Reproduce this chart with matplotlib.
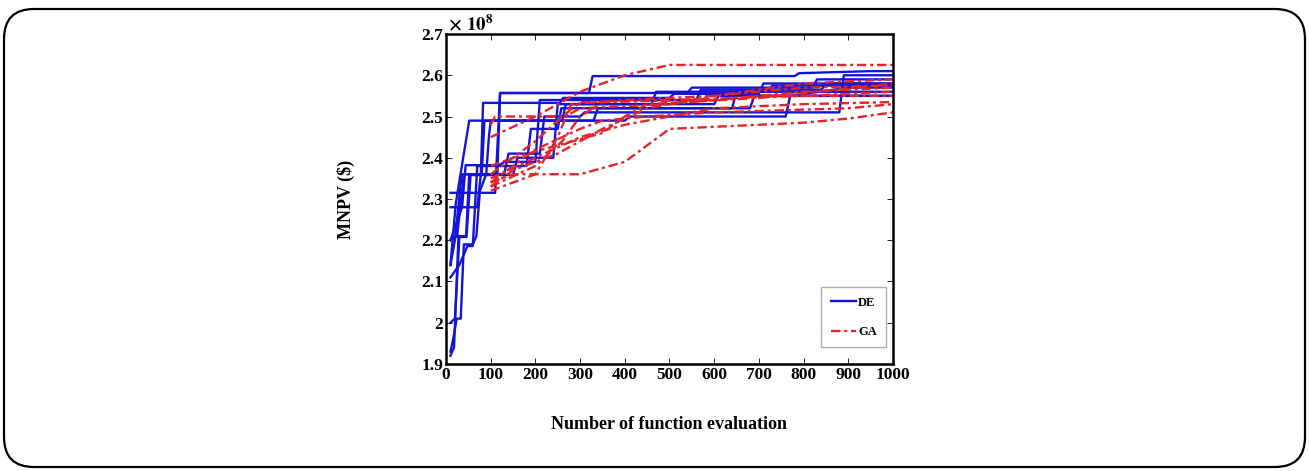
import matplotlib.pyplot as plt
from matplotlib.patches import FancyBboxPatch

# convergence runs, y in units of 1e8 $
de_runs = [
    ([10, 16, 24, 33, 40, 60, 68, 76, 90, 96, 100, 260, 268, 600, 610, 1000],
     [1.93, 1.96, 2.01, 2.01, 2.19, 2.19, 2.21, 2.32, 2.36, 2.45, 2.49, 2.49, 2.53, 2.53, 2.55, 2.55]),
    ([10, 18, 28, 45, 52, 80, 86, 400, 410, 760, 770, 900, 1000],
     [1.92, 1.94, 2.21, 2.21, 2.36, 2.36, 2.49, 2.49, 2.50, 2.50, 2.55, 2.57, 2.57]),
    ([10, 70, 78, 83, 255, 262, 500, 510, 700, 710, 1000],
     [2.28, 2.28, 2.36, 2.533, 2.533, 2.545, 2.545, 2.555, 2.555, 2.58, 2.58]),
    ([10, 20, 35, 115, 121, 320, 328, 780, 790, 950, 1000],
     [2.14, 2.20, 2.36, 2.36, 2.557, 2.557, 2.598, 2.598, 2.605, 2.61, 2.61]),
    ([10, 110, 121, 540, 550, 820, 830, 1000],
     [2.315, 2.315, 2.557, 2.557, 2.57, 2.57, 2.59, 2.59]),
    ([10, 30, 48, 60, 70, 180, 190, 250, 258, 640, 650, 1000],
     [2.11, 2.14, 2.186, 2.186, 2.38, 2.38, 2.47, 2.47, 2.52, 2.52, 2.56, 2.56]),
    ([10, 25, 40, 130, 140, 210, 220, 300, 310, 880, 890, 1000],
     [2.20, 2.21, 2.36, 2.36, 2.41, 2.41, 2.50, 2.50, 2.51, 2.51, 2.60, 2.60]),
    ([10, 20, 30, 46, 55, 150, 160, 240, 250, 460, 470, 720, 730, 1000],
     [2.00, 2.01, 2.208, 2.208, 2.358, 2.358, 2.40, 2.40, 2.53, 2.53, 2.56, 2.56, 2.575, 2.575]),
    ([10, 22, 52, 60, 330, 340, 680, 690, 1000],
     [2.14, 2.29, 2.49, 2.49, 2.49, 2.52, 2.52, 2.55, 2.55]),
    ([10, 36, 44, 120, 130, 200, 210, 560, 570, 840, 850, 1000],
     [2.20, 2.28, 2.382, 2.382, 2.39, 2.39, 2.54, 2.54, 2.565, 2.565, 2.58, 2.58]),
]

ga_runs = [
    ([100, 200, 300, 400, 500, 1000],
     [2.45, 2.50, 2.56, 2.60, 2.625, 2.625]),
    ([100, 150, 300, 400, 500, 600, 700, 800, 900, 1000],
     [2.34, 2.36, 2.36, 2.39, 2.47, 2.475, 2.48, 2.485, 2.495, 2.51]),
    ([100, 110, 260, 300, 600, 800, 1000],
     [2.48, 2.50, 2.50, 2.535, 2.54, 2.56, 2.57]),
    ([100, 200, 260, 300, 350, 500, 800, 1000],
     [2.33, 2.38, 2.44, 2.50, 2.535, 2.54, 2.55, 2.56]),
    ([100, 200, 300, 400, 500, 600, 800, 1000],
     [2.35, 2.40, 2.45, 2.48, 2.50, 2.52, 2.53, 2.535]),
    ([100, 200, 250, 280, 400, 600, 800, 1000],
     [2.32, 2.36, 2.45, 2.53, 2.54, 2.55, 2.58, 2.59]),
    ([100, 150, 250, 350, 400, 450, 700, 1000],
     [2.38, 2.40, 2.43, 2.46, 2.50, 2.53, 2.545, 2.58]),
    ([100, 200, 300, 350, 450, 600, 900, 1000],
     [2.34, 2.42, 2.47, 2.49, 2.50, 2.51, 2.52, 2.53]),
    ([100, 200, 250, 300, 500, 700, 1000],
     [2.36, 2.44, 2.49, 2.52, 2.53, 2.55, 2.55]),
    ([100, 150, 250, 350, 450, 600, 800, 1000],
     [2.33, 2.37, 2.41, 2.47, 2.52, 2.55, 2.57, 2.575]),
]

x_ticks = list(range(0, 1001, 100))
y_ticks = [1.9, 2.0, 2.1, 2.2, 2.3, 2.4, 2.5, 2.6, 2.7]

plt.rcParams['font.family'] = 'Liberation Serif'
plt.rcParams['font.weight'] = 'bold'
plt.rcParams['mathtext.fontset'] = 'stix'

fig = plt.figure(figsize=(13.09, 4.71), dpi=100)
ax = fig.add_axes([0.3407, 0.2272, 0.3415, 0.7006])

for i, (xs, ys) in enumerate(de_runs):
    ax.plot(xs, ys, color='#1414d8', lw=1.7, label='DE' if i == 0 else None)
for i, (xs, ys) in enumerate(ga_runs):
    ax.plot(xs, ys, color='#e42428', lw=1.7, dashes=(4, 1.6, 1.3, 1.6),
            label='GA' if i == 0 else None)

ax.set_xlim(0, 1000)
ax.set_ylim(1.9, 2.7)
ax.set_xticks(x_ticks)
ax.set_yticks(y_ticks)
ax.set_yticklabels([f'{v:g}' for v in y_ticks])
ax.tick_params(direction='in', top=True, right=True, labelsize=12.5, length=4, width=0.6, pad=2)
for sp in ax.spines.values():
    sp.set_linewidth(1.8)
for lab in ax.get_xticklabels() + ax.get_yticklabels():
    lab.set_fontweight('bold')

ax.text(0.005, 1.0, r'$\times\ \mathbf{10^8}$', transform=ax.transAxes, fontsize=13.5,
        ha='left', va='bottom')

ax.set_ylabel('MNPV ($)', fontsize=13, fontweight='bold', labelpad=48)
ax.set_xlabel('Number of function evaluation', fontsize=13, fontweight='bold', labelpad=24)

leg = ax.legend(loc='lower right', fontsize=9, handlelength=2.0, handletextpad=0.2,
                fancybox=False, edgecolor='#999999', borderpad=0.75, labelspacing=1.4,
                borderaxespad=0, bbox_to_anchor=(0.985, 0.05))
for t in leg.get_texts():
    t.set_fontweight('bold')

border = FancyBboxPatch((0.04, 0.04), 13.01, 4.58, boxstyle='round,pad=0,rounding_size=0.3',
                        transform=fig.dpi_scale_trans, fill=False, lw=1.6, ec='black')
fig.patches.append(border)

fig.savefig('out.png', dpi=100)
